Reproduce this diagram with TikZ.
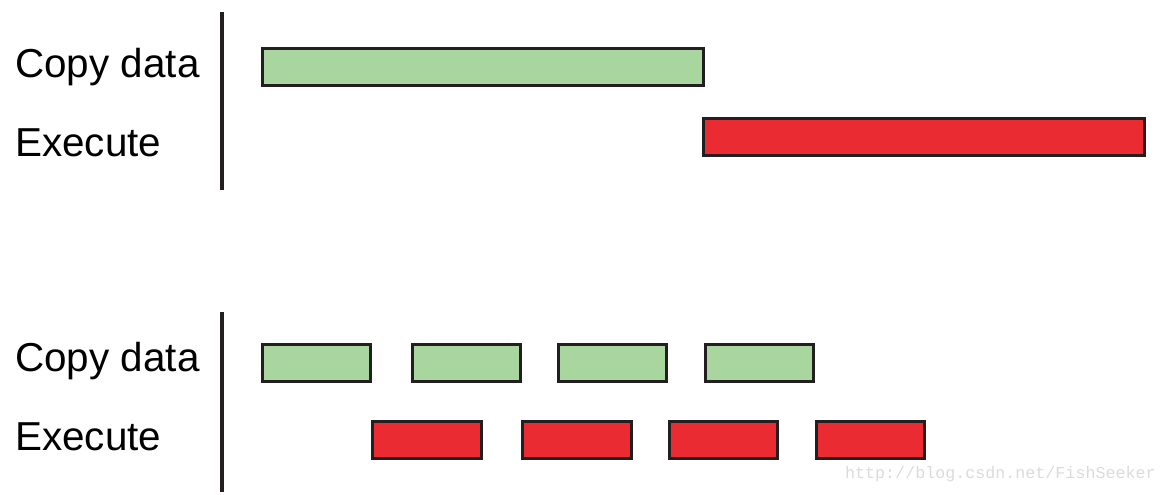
\documentclass[tikz,border=0pt]{standalone}
\usepackage{fontspec}
\setmainfont{Liberation Sans}
\setmonofont{Liberation Mono}
\definecolor{copygreen}{RGB}{168,214,158}
\definecolor{execred}{RGB}{234,43,49}
\definecolor{edgeblack}{RGB}{35,31,32}

\begin{document}
\begin{tikzpicture}[x=0.02cm,y=-0.02cm,
	copybox/.style={draw=edgeblack,fill=copygreen,line width=1.7pt},
	execbox/.style={draw=edgeblack,fill=execred,line width=1.7pt},
	axis/.style={draw=edgeblack,line width=2.8pt},
	label/.style={anchor=west,inner sep=0pt,font=\fontsize{23}{26}\selectfont}]
	\useasboundingbox (0,0) rectangle (1168,494);

	% sequential
	\node[label] (CD1) at (15,67) {Copy data};
	\node[label] (EX1) at (15,143) {Execute};
	\draw[axis] (222,12) -- (222,190);
	\draw[copybox] (262.5,48.5) rectangle (703.5,85.5);
	\draw[execbox] (703.5,118.5) rectangle (1144.5,155.5);

	% overlapped
	\node[label] (CD2) at (15,361) {Copy data};
	\node[label] (EX2) at (15,437) {Execute};
	\draw[axis] (222,312) -- (222,492);
	\draw[copybox] (262.5,344.5) rectangle (370.5,381.5);
	\draw[copybox] (412.5,344.5) rectangle (520.5,381.5);
	\draw[copybox] (558.5,344.5) rectangle (666.5,381.5);
	\draw[copybox] (705.5,344.5) rectangle (813.5,381.5);
	\draw[execbox] (372.5,421.5) rectangle (481.5,458.5);
	\draw[execbox] (522.5,421.5) rectangle (631.5,458.5);
	\draw[execbox] (669.5,421.5) rectangle (777.5,458.5);
	\draw[execbox] (816.5,421.5) rectangle (924.5,458.5);

	\node[anchor=east,inner sep=0pt,text=black!14,font=\ttfamily\fontsize{9.5}{11}\selectfont] (WM) at (1156,474) {http://blog.csdn.net/FishSeeker};
\end{tikzpicture}
\end{document}
